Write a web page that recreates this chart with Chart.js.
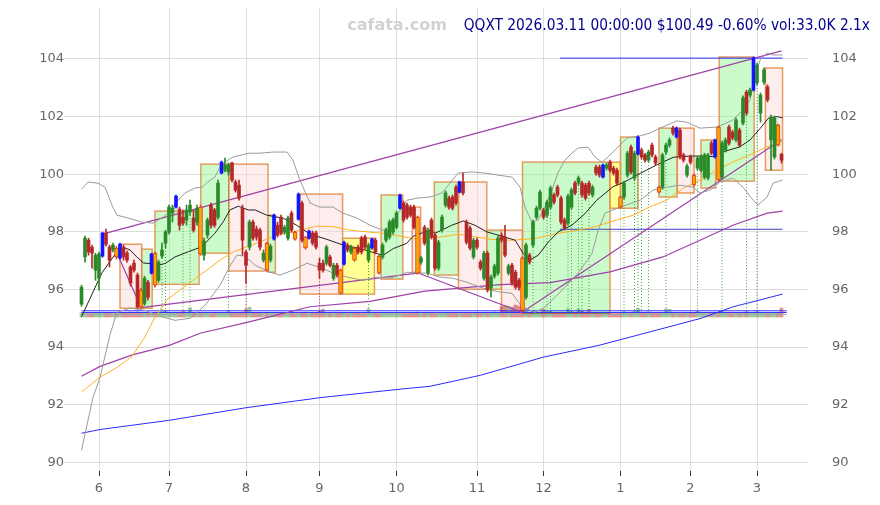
<!DOCTYPE html>
<html><head><meta charset="utf-8">
<script src="https://cdn.jsdelivr.net/npm/chart.js@4.4.1/dist/chart.umd.min.js"></script>
<style>html,body{margin:0;padding:0;background:#fff;}</style>
</head><body>
<canvas id="c" width="880" height="505"></canvas>
<script>
// ---------- data ----------
const titleText = 'QQXT 2026.03.11 00:00:00 $100.49 -0.60% vol:33.0K 2.1x';
const watermark = 'cafata.com';
const monthTickIdx = [5,25,47,68,90,113,132,154,174,193];
const monthLabels = ['6','7','8','9','10','11','12','1','2','3'];
const yTickVals = [90,92,94,96,98,100,102,104];

const opens = [95.49,97.13,97.71,97.47,96.67,96.39,97.16,97.96,97.47,97.37,
97.44,97.09,97.47,97.26,96.78,96.91,96.50,95.98,95.52,96.25,
96.57,97.26,96.32,97.16,97.61,97.99,98.65,98.86,98.79,98.51,
98.41,98.69,98.48,98.34,98.86,97.19,97.89,98.93,98.76,98.51,
100.04,100.14,100.08,100.39,99.73,99.62,98.82,97.30,97.47,98.34,
98.10,98.06,97.02,97.61,97.02,97.75,98.23,98.51,97.99,97.78,
98.65,97.99,98.44,99.00,97.82,97.78,97.96,97.96,96.91,96.91,
96.91,97.13,96.39,96.84,96.67,96.88,97.54,97.30,97.44,97.47,
97.78,97.82,97.02,97.44,97.71,97.16,97.13,97.71,97.82,97.99,
98.16,98.82,99.00,98.93,98.86,98.86,98.51,96.95,98.16,96.57,
98.41,97.89,96.74,98.06,98.93,99.17,99.21,99.55,99.38,99.73,
98.34,98.13,97.13,97.71,96.95,96.39,97.26,96.05,96.46,96.57,
97.89,97.82,96.57,96.84,96.60,96.32,97.09,95.73,97.19,97.54,
98.51,98.82,98.76,98.58,98.86,99.28,99.55,99.17,98.41,98.30,
98.86,99.69,99.69,99.69,99.62,99.69,99.28,100.25,100.25,99.90,
100.21,100.42,100.21,100.14,99.21,99.21,99.97,100.94,99.87,100.70,
100.84,100.67,100.49,101.01,100.60,99.55,99.55,100.77,101.01,101.60,
101.29,101.53,100.67,99.97,100.60,99.97,100.21,100.14,99.90,99.87,
101.08,100.60,101.64,99.90,100.84,101.64,101.46,101.19,101.53,101.78,
102.85,102.75,102.92,103.17,102.12,103.20,103.03,101.19,100.60,101.71,
100.69];
const highs = [96.15,97.85,97.78,97.54,97.26,97.30,97.99,98.10,97.54,97.61,
97.50,97.61,97.54,97.33,96.84,97.02,96.57,96.05,96.46,96.32,
97.26,97.30,97.02,97.61,98.06,98.93,98.93,99.28,98.86,98.76,
98.93,99.10,98.76,98.93,98.93,97.78,98.48,99.00,98.82,99.80,
100.46,100.56,100.39,100.42,99.80,99.80,98.93,97.37,98.41,98.41,
98.20,98.13,97.37,97.64,97.57,98.62,98.34,98.58,98.23,98.55,
98.72,98.03,99.35,99.07,97.85,98.06,98.03,98.03,97.09,97.02,
97.54,97.19,96.91,96.91,96.71,97.68,97.61,97.54,97.47,97.54,
97.85,97.89,97.61,97.78,97.78,97.19,97.61,98.13,98.41,98.48,
98.72,99.31,99.07,99.00,98.93,98.93,98.55,97.16,98.23,98.13,
98.48,97.96,97.71,98.58,99.42,99.24,99.28,99.62,99.76,100.04,
98.41,98.20,97.78,97.78,97.02,97.33,97.33,96.50,96.88,97.85,
97.96,98.23,96.88,96.91,96.67,96.39,97.13,97.61,97.26,98.41,
98.89,99.45,98.82,99.10,99.59,99.35,99.62,99.24,98.48,99.31,
99.52,99.76,99.94,99.76,99.69,99.76,99.62,100.32,100.32,100.35,
100.39,100.49,100.28,100.21,99.24,99.76,100.80,101.01,100.80,101.33,
100.91,100.73,100.84,101.08,100.67,99.59,100.73,101.08,101.26,101.67,
101.64,101.60,100.73,100.35,100.67,100.01,100.63,100.67,100.73,100.73,
101.15,101.22,101.67,101.15,101.26,101.71,101.53,101.95,101.60,102.72,
102.92,102.99,104.07,103.86,102.82,103.69,103.10,102.05,102.02,101.74,
100.73];
const lows = [95.42,96.95,97.19,96.74,96.32,95.98,97.12,97.50,96.78,97.30,
97.06,97.06,97.02,96.95,96.12,96.60,95.35,95.35,95.45,95.63,
96.53,96.08,96.25,97.09,97.44,97.92,98.34,98.82,98.06,98.23,
98.23,98.58,97.99,98.23,97.19,97.02,97.78,98.13,98.16,98.44,
100.01,100.08,99.97,99.73,99.38,99.10,97.19,96.22,97.37,97.71,
97.71,97.37,96.95,96.64,96.95,97.71,97.82,97.89,97.92,97.71,
97.99,97.71,98.41,97.64,97.40,97.75,97.54,97.40,96.39,96.60,
96.84,96.78,96.32,96.43,95.84,96.84,97.30,97.23,96.98,97.23,
97.23,97.40,96.95,97.40,97.23,96.53,97.06,97.64,97.75,97.92,
98.10,98.79,98.34,98.44,98.51,98.10,96.53,96.88,97.54,96.50,
97.75,96.67,96.67,97.99,98.86,98.79,98.76,98.93,99.35,99.28,
97.57,97.37,97.06,97.40,96.67,96.32,95.91,95.73,96.39,96.50,
97.64,97.13,96.50,96.15,96.01,95.98,95.25,95.66,96.88,97.47,
98.44,98.76,98.44,98.51,98.79,98.96,99.21,98.27,98.06,98.23,
98.79,99.28,99.62,99.21,99.10,99.28,99.21,99.97,99.90,99.87,
100.14,100.08,99.97,99.62,98.82,99.14,99.90,100.01,99.80,100.67,
100.53,100.42,100.42,100.60,100.32,99.35,99.48,100.70,100.94,101.36,
101.26,100.53,100.42,99.90,100.35,99.59,100.14,100.08,99.83,99.80,
100.67,100.56,99.76,99.83,100.77,101.01,101.19,101.12,100.94,101.71,
102.05,102.68,102.89,103.10,101.81,103.13,102.51,100.14,100.53,100.98,
100.39];
const closes = [96.08,97.78,97.30,97.26,97.19,97.23,97.96,97.57,97.02,97.54,
97.13,97.57,97.13,97.02,96.22,96.67,95.39,95.39,96.39,95.73,
97.23,96.15,96.95,97.37,97.99,98.86,98.82,99.24,98.23,98.30,
98.76,98.93,98.06,98.82,97.23,97.68,98.41,98.23,98.23,99.69,
100.42,100.32,100.32,99.80,99.45,99.17,97.71,96.84,98.34,97.78,
97.82,97.47,97.26,96.67,97.50,98.58,97.89,97.96,98.16,98.48,
98.06,97.75,99.31,97.71,97.44,98.03,97.61,97.47,96.67,96.67,
97.47,96.84,96.84,96.50,95.87,97.64,97.37,97.47,97.02,97.30,
97.30,97.47,97.54,97.75,97.30,96.57,97.54,98.06,98.34,98.41,
98.65,99.28,98.41,98.51,98.58,98.16,96.57,97.09,97.61,98.06,
97.82,96.74,97.64,98.51,99.35,98.86,98.82,99.00,99.73,99.35,
97.64,97.44,97.71,97.47,96.74,97.26,95.98,96.43,96.81,97.78,
97.71,97.19,96.81,96.22,96.08,96.08,95.28,97.54,96.95,98.34,
98.82,99.38,98.51,99.03,99.52,99.03,99.28,98.34,98.13,99.24,
99.45,99.35,99.87,99.28,99.17,99.35,99.55,100.04,99.97,100.32,
100.32,100.14,100.04,99.69,98.86,99.69,100.73,100.08,100.73,101.29,
100.60,100.49,100.77,100.67,100.39,99.38,100.67,101.01,101.19,101.43,
101.60,100.60,100.49,100.28,100.42,99.62,100.56,100.60,100.67,100.67,
100.73,101.19,99.80,101.08,101.19,101.08,101.26,101.88,101.01,102.65,
102.12,102.92,104.04,103.79,102.75,103.62,102.58,101.99,101.95,101.01,
100.49];
const volumes = [16,14,15,13,17,15,18,14,16,13,
15,17,14,16,18,15,19,17,16,14,
17,15,16,20,22,15,14,16,15,21,
14,34,16,15,17,14,16,13,15,14,
16,15,24,17,15,16,18,30,36,15,
14,16,13,15,17,14,15,16,13,14,
15,13,16,14,15,13,16,14,22,28,
14,15,13,16,14,15,13,16,14,15,
13,16,30,14,15,13,16,14,15,13,
16,14,15,13,14,16,18,13,15,14,
16,13,15,14,16,13,15,14,16,13,
15,14,16,15,17,16,18,16,19,17,
38,42,40,36,44,40,45,22,16,24,
15,14,28,20,22,15,14,16,15,30,
20,14,30,22,15,28,14,16,13,15,
14,16,13,15,14,20,15,14,22,32,
18,14,20,15,14,16,15,30,28,14,
16,13,15,14,16,15,22,14,15,13,
16,14,15,22,14,16,13,15,14,16,
20,14,15,22,14,16,13,15,14,16,
33];
const blueIdx = [6,11,20,27,40,55,62,65,75,83,91,108,149,159,170,181,192];
const orangeIdx = [10,17,21,34,53,61,64,74,78,85,96,126,154,165,175,182,199];
const greenDotIdx = [23,24,29,31,42,82,129,133,134,139,140,142,143,145,155,158,159,160,162,167,176,183,190,193];
const redDotIdx = [47,68];
const dotBottom = 95.17;

// boxes
const boxStart = [11,17.2,21,34.1,42.1,53.3,62.4,74.6,85.6,94.5,100.8,107.7,115.8,120,126,151,154,165,170.2,177,182.2,195.4];
const boxEnd = [17.2,20.2,33.6,42.1,53.3,55.4,74.6,83.7,91.8,96.9,107.7,115.8,120,126,151,154,159,170.2,175,181.2,192.2,200.3];
const boxTop = [97.57,97.40,98.72,100.35,100.35,98.58,99.31,97.78,99.28,98.86,99.73,99.73,98.06,98.06,100.42,100.42,101.29,101.60,101.60,101.19,104.07,103.69];
const boxBottom = [95.35,95.35,96.18,97.26,96.64,96.60,95.84,95.84,96.36,96.60,96.50,96.01,96.01,95.21,95.17,98.82,98.82,99.21,99.35,99.52,99.76,100.14];
const boxKind = ['p','g','g','g','p','g','p','y','g','p','g','p','g','p','g','y','g','g','p','g','g','p'];

// moving averages / bands (sampled)
const maShortIdx = [0,5.8,10.1,12.4,13.9,15.8,17.7,19.6,21.5,23.9,26.7,30.5,34.3,38.1,40.5,42.4,44.8,47.7,49.6,52.9,57.7,61.5,65.3,70.1,74.8,79.6,84.3,86.2,89.1,92.9,94.8,99.6,101,105.8,109.1,112.4,115.8,120.1,123.9,126.2,128.1,130.5,133.4,136.2,140.1,143.9,147.2,149.6,151.9,155.3,159.6,164.3,169.1,173.9,176.7,180.5,183.4,188.1,191,193.9,196.2,198.6,200.3];
const maShortVal = [95.05,96.57,97.31,97.44,97.37,97.13,96.92,96.90,96.84,96.90,97.13,97.31,97.48,97.95,98.35,98.76,98.89,98.76,98.76,98.58,98.47,98.23,97.92,97.74,97.54,97.42,97.25,97.19,97.42,97.60,97.85,98.06,97.95,98.23,98.38,98.23,98.00,97.85,97.71,97.25,97.02,97.19,97.65,98.00,98.23,98.64,99.10,99.34,99.57,99.74,100.03,100.32,100.59,100.63,100.63,100.61,100.78,100.95,101.19,101.59,101.94,102.00,101.96];
const maMidIdx = [0,5.3,10.1,14.3,18.1,20.5,24.3,28.1,31.9,35.8,39.6,43.4,47.2,51,55.8,60.5,67.2,71.9,76.7,81.5,86.2,91,95.8,102.9,107.7,112.4,117.2,122.9,129.6,136.2,141,145.8,149.6,152.9,157.7,162.4,167.2,171.9,176.7,181.5,186.2,191,195.8,200.3];
const maMidVal = [92.44,92.96,93.29,93.66,94.35,94.93,95.63,95.98,96.32,96.67,97.02,97.31,97.48,97.65,97.89,98.00,98.20,98.18,98.06,98.00,97.95,97.85,97.74,97.83,97.92,97.83,97.74,97.71,97.77,97.95,98.04,98.15,98.29,98.41,98.58,98.87,99.10,99.51,99.80,100.14,100.43,100.67,100.95,101.13];
const maLongIdx = [0,5.3,14.3,25.3,33.9,47,65.3,82.4,98.1,119.6,133.9,151,166.1,176.7,186.1,195.9,200.3];
const maLongVal = [92.99,93.33,93.72,94.07,94.48,94.85,95.40,95.59,95.94,96.17,96.24,96.61,97.13,97.71,98.23,98.65,98.72];
const maSlowIdx = [0,5.3,25.1,47.2,68.5,91,99.6,113.9,131.9,148.1,164.3,176.7,186.2,200.3];
const maSlowVal = [91.01,91.14,91.46,91.90,92.25,92.54,92.64,93.02,93.65,94.07,94.59,94.99,95.40,95.84];
const bandUpIdx = [0,1.9,4.7,6.7,8.7,10.1,13.3,17.3,20.4,23.3,25.9,27.6,29.6,32.4,34.4,36.1,38.1,39.6,41,43.3,45.9,47.6,51,54.7,58.7,60.4,62.4,65.3,68.1,71.9,74.7,78.7,82.4,86.1,88.1,90.1,93,95.9,99.6,103,107.6,111.6,115.3,119,123,125.3,126.7,128.7,130.4,132.4,134.4,136.1,138.1,140.1,141.9,144.7,146.7,148.7,150.1,152.4,155.9,159.6,162.4,165.3,170.1,172.9,176.7,181.6,186.1,189,191,192.4,193.9,195.9,197.6,200.3];
const bandUpVal = [99.48,99.73,99.69,99.55,98.93,98.58,98.48,98.34,98.30,98.51,98.76,99.10,99.35,99.52,99.55,99.73,99.90,100.25,100.42,100.60,100.67,100.73,100.73,100.77,100.77,100.49,99.80,99.00,98.86,98.86,98.65,98.48,98.23,98.06,98.16,98.58,99.10,99.17,99.21,99.35,100.04,100.08,100.04,99.97,99.90,99.55,98.86,98.34,98.41,98.86,99.45,100.04,100.49,100.73,100.91,100.94,100.60,100.42,100.56,100.84,101.26,101.33,101.43,101.60,101.85,101.81,101.60,101.64,101.88,102.23,102.58,103.38,103.97,104.21,104.14,104.14];
const bandLoIdx = [0,3.3,5.3,8.1,10.1,13.9,18.1,22.4,26.7,31,35.3,39.6,42.4,44.4,46.7,49.6,53.9,56.7,60.4,64.4,68.1,71.9,75.9,80.4,84.4,88.1,91,93,95.9,98.7,102.4,106.1,110.1,113.9,116.7,119.6,123,125.9,129.6,132.4,135.3,138.1,141.9,145.9,147.6,149.6,153.9,159.6,163.3,167.3,171,174.7,176.7,179.6,182.4,186.1,189,191.9,193.3,195.9,197.6,200.3];
const bandLoVal = [90.42,92.26,92.95,94.41,95.21,95.35,95.28,95.07,94.93,95.00,95.45,96.15,96.81,97.19,97.16,96.84,96.60,96.50,96.67,96.91,96.77,96.57,96.43,96.32,96.43,96.39,96.50,96.60,96.57,96.57,96.43,96.39,96.25,96.08,95.98,95.91,95.87,95.39,95.21,95.39,95.73,96.08,96.57,97.26,98.06,98.65,98.86,99.10,99.45,99.55,99.62,99.55,99.35,99.45,99.73,99.87,99.55,99.10,98.93,99.21,99.69,99.80];

// trend lines (start idx/value, end idx/value)
const trendIdxA = [6,17,10,96,126];
const trendValA = [97.92,95.37,97.30,96.58,95.22];
const trendIdxB = [200,96,17,126,200];
const trendValB = [104.28,96.57,95.38,95.20,101.20];
// horizontal levels
const hLineVal = [104.03,98.09,95.26,95.20,95.13];
const hLineFrom = [136.7,136.7,0,0,0];
const hLineTo = [200.3,200.3,201.5,201.5,201.5];

// ---------- styling ----------
const C_UP = '#2a8a2a', C_DN = '#b52828', C_BLUE = '#1414ff', C_OR = '#ffa500', C_ORB = '#d9431e';
const BOX_FILL = {g:'rgba(140,245,140,0.45)', p:'rgba(250,215,215,0.45)', y:'rgba(255,255,60,0.55)'};
const hLineColor = ['#2b2bff','#4040c0','#3030ff','#3030ff','#a8a8a8'];

const N = opens.length;
const idx = Array.from({length:N}, (_,i)=>i);
const kind = i => blueIdx.includes(i) ? 'b' : orangeIdx.includes(i) ? 'o' : (closes[i] >= opens[i] ? 'g' : 'r');
const colOf = i => ({g:C_UP, r:C_DN, b:C_BLUE, o:C_ORB})[kind(i)];
const pts = (xs, ys) => xs.map((x,k)=>({x, y: ys[k]}));
const nonOr = idx.filter(i => kind(i) !== 'o');

const lineDs = (data, color, width, order=1) => ({type:'line', data, borderColor:color, borderWidth:width, pointRadius:0, fill:false, tension:0, order});

const datasets = [
  {type:'bar', data: nonOr.map(i=>({x:i, y:[opens[i], closes[i]]})), backgroundColor: nonOr.map(colOf), barThickness:3, grouped:false, minBarLength:1, order:0},
  {type:'bar', data: orangeIdx.map(i=>({x:i, y:[opens[i], closes[i]]})), backgroundColor: C_OR, borderColor: C_ORB, borderWidth:1, borderSkipped:false, barThickness:4, grouped:false, order:0},
  {type:'bar', data: idx.map(i=>({x:i, y:[lows[i], highs[i]]})), backgroundColor: idx.map(colOf), barThickness:1, grouped:false, order:0.5},
  {type:'bar', yAxisID:'yVol', data: idx.map(i=>({x:i, y:volumes[i]})), backgroundColor: idx.map(i => closes[i] >= opens[i] ? 'rgba(40,140,40,0.45)' : 'rgba(190,40,40,0.5)'), barThickness:3, grouped:false, order:5},
  lineDs(pts(bandUpIdx, bandUpVal), '#9a9a9a', 1),
  lineDs(pts(bandLoIdx, bandLoVal), '#9a9a9a', 1),
  lineDs(pts(maShortIdx, maShortVal), '#222222', 1),
  lineDs(pts(maMidIdx, maMidVal), '#ffb020', 1),
  lineDs(pts(maLongIdx, maLongVal), '#a040a8', 1.2),
  lineDs(pts(maSlowIdx, maSlowVal), '#2a2aff', 1),
];
trendIdxA.forEach((a,k)=>datasets.push(lineDs([{x:a,y:trendValA[k]},{x:trendIdxB[k],y:trendValB[k]}], '#a040a8', 1.2)));
hLineVal.forEach((v,k)=>datasets.push(lineDs([{x:hLineFrom[k],y:v},{x:hLineTo[k],y:v}], hLineColor[k], 1, 2)));

const boxPlugin = {
  id:'boxes',
  beforeDatasetsDraw(chart){
    const {ctx, scales:{x, y}} = chart;
    ctx.save();
    for (let k=0;k<boxStart.length;k++){
      const x0=x.getPixelForValue(boxStart[k]), x1=x.getPixelForValue(boxEnd[k]);
      const y0=y.getPixelForValue(boxTop[k]), y1=y.getPixelForValue(boxBottom[k]);
      ctx.fillStyle = BOX_FILL[boxKind[k]];
      ctx.fillRect(x0,y0,x1-x0,y1-y0);
      ctx.strokeStyle = 'rgba(226,140,70,0.85)'; ctx.lineWidth = 1.5;
      ctx.strokeRect(x0,y0,x1-x0,y1-y0);
    }
    ctx.setLineDash([1,2]); ctx.lineWidth = 1;
    const drawDots = (list, color) => {
      ctx.strokeStyle = color;
      list.forEach(i=>{
        const px = x.getPixelForValue(i);
        ctx.beginPath(); ctx.moveTo(px, y.getPixelForValue(lows[i])); ctx.lineTo(px, y.getPixelForValue(dotBottom)); ctx.stroke();
      });
    };
    drawDots(greenDotIdx, 'rgba(40,160,40,0.9)');
    drawDots(redDotIdx, 'rgba(190,40,40,0.9)');
    ctx.restore();
  }
};
const titlePlugin = {
  id:'titles',
  afterDraw(chart){
    const ctx = chart.ctx; ctx.save();
    ctx.textBaseline = 'middle';
    ctx.font = 'bold 16px "DejaVu Sans"'; ctx.fillStyle = '#d2d2d2'; ctx.textAlign = 'center';
    ctx.fillText(watermark, 397, 26);
    ctx.font = '15.3px "DejaVu Sans Condensed", "DejaVu Sans"'; ctx.fillStyle = '#000090'; ctx.textAlign = 'right';
    ctx.fillText(titleText, 870, 26);
    ctx.restore();
  }
};

Chart.defaults.font.family = '"DejaVu Sans", sans-serif';
Chart.defaults.font.size = 13;
Chart.defaults.color = '#666';

const yTicks = axis => { axis.ticks = yTickVals.map(v=>({value:v})); };

new Chart(document.getElementById('c'), {
  type:'bar',
  data:{datasets},
  plugins:[boxPlugin, titlePlugin],
  options:{
    responsive:false, animation:false, events:[],
    layout:{padding:{top:8,left:0,right:0,bottom:0}},
    plugins:{legend:{display:false}, tooltip:{enabled:false}, title:{display:false}},
    scales:{
      x:{type:'linear', min:-1, max:207.57, offset:false,
         grid:{color:'#dddddd', offset:false, tickLength:5, tickColor:'#333', drawTicks:true},
         border:{display:false},
         afterBuildTicks: axis => { axis.ticks = monthTickIdx.map(v=>({value:v})); },
         ticks:{autoSkip:false, maxRotation:0, padding:5, callback:(v)=>{ const k = monthTickIdx.indexOf(v); return k>=0 ? monthLabels[k] : ''; }},
         afterFit: s => { s.height = 34; }},
      y:{type:'linear', position:'left', min:89.7, max:105.77,
         grid:{color:'#dddddd', tickLength:14, tickColor:'#dddddd'},
         border:{display:false},
         afterBuildTicks: yTicks,
         ticks:{padding:0, callback:v=>String(v)},
         afterFit: s => { s.width = 78; }},
      y2:{type:'linear', position:'right', min:89.7, max:105.77,
         grid:{display:true, drawOnChartArea:false, drawTicks:true, tickLength:24, tickColor:'rgba(0,0,0,0)'},
         border:{display:false},
         afterBuildTicks: yTicks,
         ticks:{padding:0, callback:v=>String(v)},
         afterFit: s => { s.width = 72; }},
      yVol:{type:'linear', display:false, min:-565, max:1134}
    }
  }
});
</script>
</body></html>
